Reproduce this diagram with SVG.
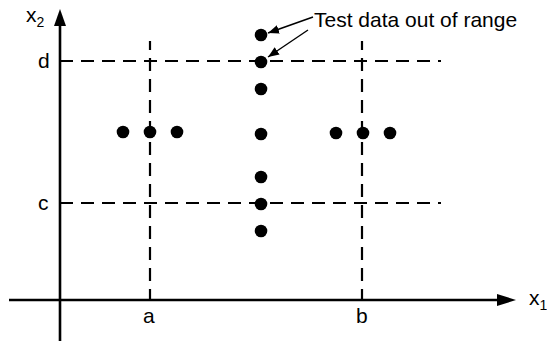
<svg xmlns="http://www.w3.org/2000/svg" width="547" height="341" viewBox="0 0 547 341">
<defs>
<marker id="ah" viewBox="0 0 10 10" refX="10" refY="5" markerWidth="11" markerHeight="11" markerUnits="userSpaceOnUse" orient="auto"><path d="M0,1 L10,5 L0,9 z" fill="#000"/></marker>
</defs>
<style>
text{font-family:"Liberation Sans",Arial,sans-serif;font-size:21px;fill:#000}
.sub{font-size:14px}
.axis{stroke:#000;stroke-width:2.6;fill:none}
.dash{stroke:#000;stroke-width:2.2;stroke-dasharray:13 8;fill:none}
.dot{fill:#000}
.lead{stroke:#000;stroke-width:1.4;fill:none}
</style>
<rect width="547" height="341" fill="#fff"/>
<g id="connectors">
<line class="axis" x1="60" y1="341" x2="60" y2="24"/>
<path d="M54,26 L60,9 L66,26 z" fill="#000"/>
<line class="axis" x1="9" y1="300" x2="500" y2="300"/>
<path d="M497,294 L516,300 L497,306 z" fill="#000"/>
<line class="dash" x1="60" y1="61" x2="441" y2="61"/>
<line class="dash" x1="60" y1="203" x2="441" y2="203"/>
<line class="dash" x1="150" y1="41" x2="150" y2="300" stroke-dashoffset="4"/>
<line class="dash" x1="362" y1="41" x2="362" y2="300" stroke-dashoffset="4"/>
<line class="lead" x1="313" y1="17" x2="268" y2="33" marker-end="url(#ah)"/>
<line class="lead" x1="308" y1="30" x2="268" y2="57" marker-end="url(#ah)"/>
</g>
<g id="dots">
<circle class="dot" cx="261" cy="35" r="6.3"/>
<circle class="dot" cx="261" cy="62" r="6.3"/>
<circle class="dot" cx="261" cy="89" r="6.3"/>
<circle class="dot" cx="261" cy="134" r="6.3"/>
<circle class="dot" cx="261" cy="177" r="6.3"/>
<circle class="dot" cx="261" cy="204" r="6.3"/>
<circle class="dot" cx="261" cy="231" r="6.3"/>
<circle class="dot" cx="123" cy="132" r="6.3"/>
<circle class="dot" cx="150" cy="132" r="6.3"/>
<circle class="dot" cx="177" cy="132" r="6.3"/>
<circle class="dot" cx="336" cy="133" r="6.3"/>
<circle class="dot" cx="363" cy="133" r="6.3"/>
<circle class="dot" cx="390" cy="133" r="6.3"/>
</g>
<g id="labels">
<text x="26" y="22">x<tspan class="sub" dy="5">2</tspan></text>
<text x="38" y="68">d</text>
<text x="38" y="210">c</text>
<text x="143" y="323">a</text>
<text x="356" y="323">b</text>
<text x="529" y="305">x<tspan class="sub" dy="5">1</tspan></text>
<text x="314" y="27">Test data out of range</text>
</g>
</svg>
